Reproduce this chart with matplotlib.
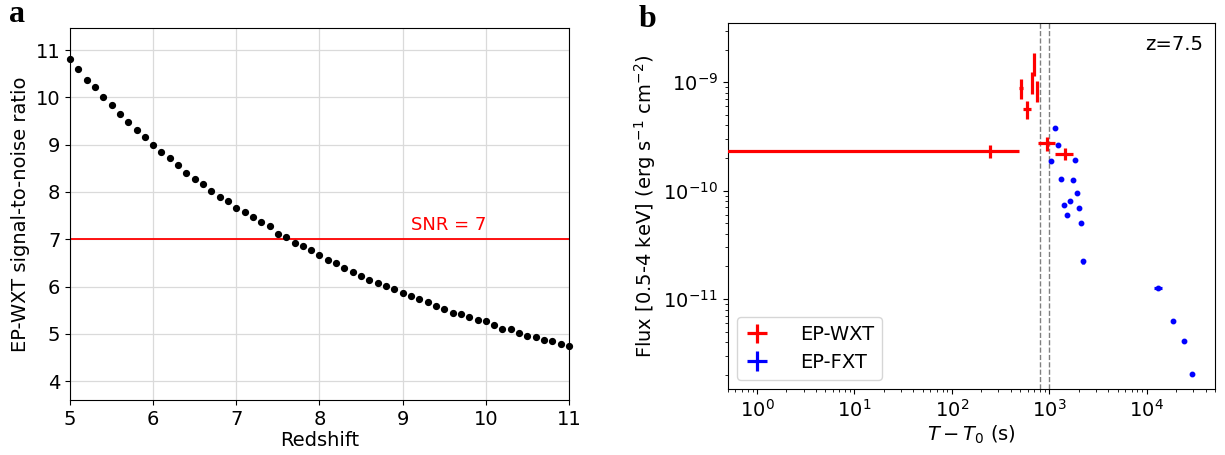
import matplotlib
matplotlib.use("Agg")
import matplotlib.pyplot as plt

# ---------------- Panel a data ----------------
redshift = [5.0, 5.1, 5.2, 5.3, 5.4, 5.5, 5.6, 5.7, 5.8, 5.9,
            6.0, 6.1, 6.2, 6.3, 6.4, 6.5, 6.6, 6.7, 6.8, 6.9,
            7.0, 7.1, 7.2, 7.3, 7.4, 7.5, 7.6, 7.7, 7.8, 7.9,
            8.0, 8.1, 8.2, 8.3, 8.4, 8.5, 8.6, 8.7, 8.8, 8.9,
            9.0, 9.1, 9.2, 9.3, 9.4, 9.5, 9.6, 9.7, 9.8, 9.9,
            10.0, 10.1, 10.2, 10.3, 10.4, 10.5, 10.6, 10.7, 10.8, 10.9, 11.0]
snr = [10.81, 10.59, 10.37, 10.21, 10.01, 9.84, 9.65, 9.48, 9.32, 9.17,
       9.00, 8.85, 8.72, 8.56, 8.39, 8.27, 8.16, 8.03, 7.90, 7.80,
       7.66, 7.57, 7.46, 7.37, 7.27, 7.12, 7.04, 6.93, 6.85, 6.77,
       6.66, 6.57, 6.50, 6.40, 6.31, 6.23, 6.14, 6.07, 6.01, 5.95,
       5.86, 5.80, 5.73, 5.68, 5.58, 5.53, 5.45, 5.42, 5.36, 5.29,
       5.26, 5.19, 5.11, 5.10, 5.02, 4.96, 4.94, 4.87, 4.84, 4.79, 4.74]
snr_threshold = 7

# ---------------- Panel b data ----------------
wxt_t = [243, 512, 594, 664, 695, 741, 939, 1438]
wxt_t_lo = [242.99, 20, 53, 15, 15, 15, 168, 295]
wxt_t_hi = [240, 20, 55, 15, 15, 15, 204, 327]
wxt_f = [2.32e-10, 8.87e-10, 5.71e-10, 1.01e-9, 1.50e-9, 8.50e-10, 2.74e-10, 2.16e-10]
wxt_f_lo = [0.33e-10, 1.90e-10, 1.09e-10, 2.3e-10, 3.6e-10, 1.86e-10, 0.40e-10, 0.24e-10]
wxt_f_hi = [0.32e-10, 1.83e-10, 1.02e-10, 2.4e-10, 3.5e-10, 1.80e-10, 0.41e-10, 0.30e-10]

fxt_t = [1032, 1134, 1236, 1328, 1426, 1531, 1631, 1737, 1836, 1941,
         2032, 2133, 2234, 12980, 18320, 23770, 29380]
fxt_t_err = [12, 12, 12, 12, 12, 12, 12, 12, 12, 12,
             12, 12, 12, 1200, 800, 300, 300]
fxt_f = [1.88e-10, 3.79e-10, 2.64e-10, 1.28e-10, 7.33e-11, 6.0e-11, 8.09e-11,
         1.25e-10, 1.92e-10, 9.44e-11, 6.92e-11, 5.04e-11, 2.23e-11,
         1.27e-11, 6.3e-12, 4.12e-12, 2.04e-12]
fxt_f_err = [4e-12, 8e-12, 5e-12, 2.5e-12, 1.5e-12, 1.2e-12, 1.6e-12,
             2.5e-12, 4e-12, 2e-12, 1.4e-12, 1e-12, 1.2e-12,
             2.5e-13, 1.3e-13, 0.8e-13, 0.4e-13]

t_marks = [800, 1000]
z_label = "z=7.5"

plt.rcParams['font.family'] = ['DejaVu Sans']

fig = plt.figure(figsize=(12.25, 4.55), dpi=100)

# ---------------- Panel a ----------------
ax1 = fig.add_axes([70 / 1225, 1 - 400 / 455, 499 / 1225, (400 - 28.3) / 455])
ax1.grid(True, color='#dadada', linewidth=0.9)
ax1.set_axisbelow(True)
ax1.plot(redshift, snr, 'o', color='black', markersize=4.2, clip_on=False, zorder=3)
ax1.axhline(snr_threshold, color='red', linewidth=1.3)
ax1.text(9.1, 7.2, 'SNR = 7', color='red', fontsize=13, va='baseline')
ax1.set_xlim(5, 11)
ax1.set_ylim(3.6, 11.46)
ax1.set_xticks([5, 6, 7, 8, 9, 10, 11])
ax1.set_yticks([4, 5, 6, 7, 8, 9, 10, 11])
ax1.tick_params(labelsize=14)
ax1.set_xlabel('Redshift', fontsize=14, labelpad=2)
ax1.set_ylabel('EP-WXT signal-to-noise ratio', fontsize=14)

# ---------------- Panel b ----------------
ax2 = fig.add_axes([727.7 / 1225, 1 - 389.3 / 455, (1215 - 727.7) / 1225, (389.3 - 23.3) / 455])
ax2.set_xscale('log')
ax2.set_yscale('log')
for tm in t_marks:
    ax2.axvline(tm, color='gray', linestyle='--', linewidth=1.0, zorder=1)
ax2.errorbar(wxt_t, wxt_f, xerr=[wxt_t_lo, wxt_t_hi], yerr=[wxt_f_lo, wxt_f_hi],
             fmt='none', ecolor='red', elinewidth=2.3, label='EP-WXT', zorder=3)
ax2.errorbar(fxt_t, fxt_f, xerr=fxt_t_err, yerr=fxt_f_err,
             fmt='none', ecolor='blue', elinewidth=2.3, label='EP-FXT', zorder=3)
ax2.plot(fxt_t, fxt_f, 'o', color='blue', markersize=3.2, zorder=4)
ax2.set_xlim(0.5, 5e4)
ax2.set_ylim(1.47e-12, 3.5e-9)
ax2.tick_params(labelsize=14)
ax2.set_xlabel(r'$T-T_0$ (s)', fontsize=14, labelpad=2)
ax2.set_ylabel(r'Flux [0.5-4 keV] (erg s$^{-1}$ cm$^{-2}$)', fontsize=14)
ax2.text(0.975, 0.968, z_label, transform=ax2.transAxes, ha='right', va='top', fontsize=14)
ax2.legend(loc='lower left', fontsize=14, handlelength=1.2, handletextpad=1.6,
           borderpad=0.4, labelspacing=0.45, framealpha=0.8, bbox_to_anchor=(0.0, 0.0))

fig.text(0.007, 0.952, 'a', fontsize=23, fontweight='bold', family='Liberation Serif', va='baseline')
fig.text(0.521, 0.941, 'b', fontsize=23, fontweight='bold', family='Liberation Serif', va='baseline')

fig.savefig('out.png', dpi=100)
